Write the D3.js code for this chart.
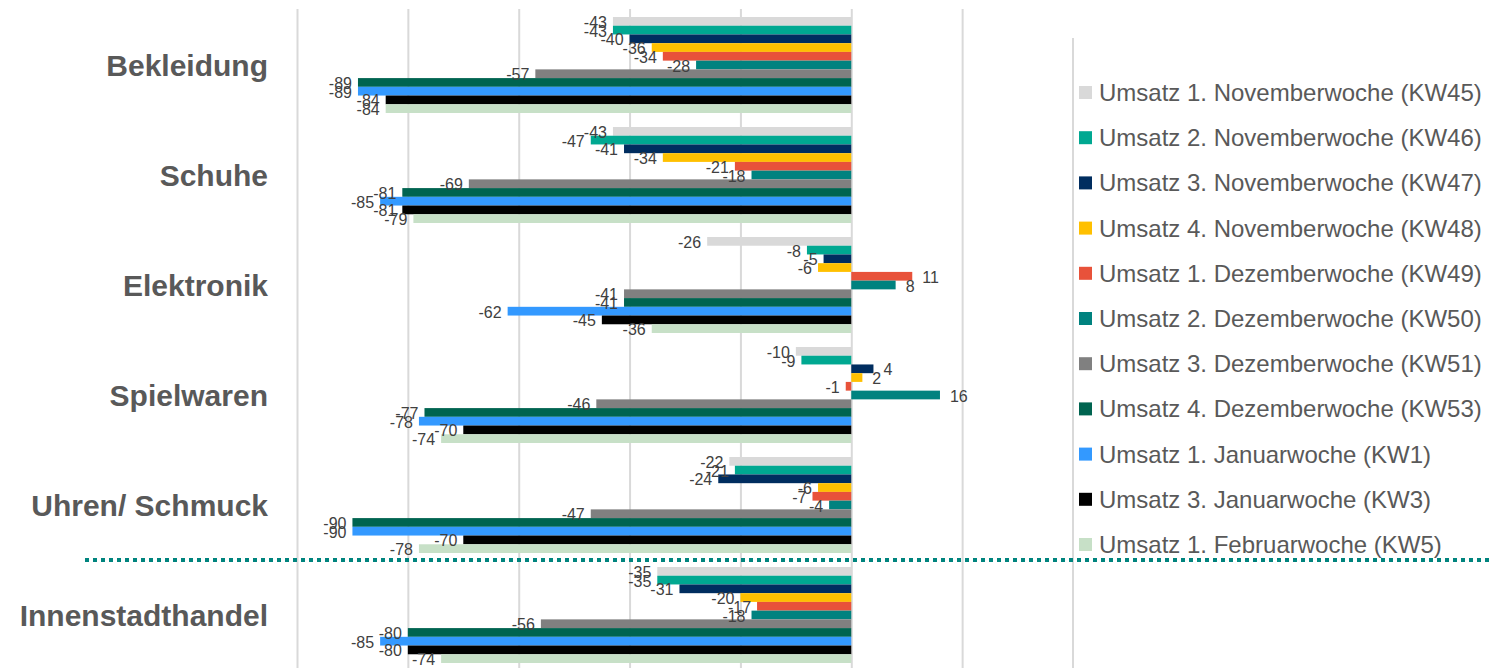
<!DOCTYPE html>
<html>
<head>
<meta charset="utf-8">
<script src="https://cdn.jsdelivr.net/npm/d3@7"></script>
<style>
    body { margin: 0; background: #fff; }
    svg { display: block; font-family: "Liberation Sans", Arial, sans-serif; }
</style>
</head>
<body>
<div id="chart"></div>
<script>
"use strict";

var categories = ['Bekleidung', 'Schuhe', 'Elektronik', 'Spielwaren', 'Uhren/ Schmuck', 'Innenstadthandel'];

var seriesNames = [
    'Umsatz 1. Novemberwoche (KW45)',
    'Umsatz 2. Novemberwoche (KW46)',
    'Umsatz 3. Novemberwoche (KW47)',
    'Umsatz 4. Novemberwoche (KW48)',
    'Umsatz 1. Dezemberwoche (KW49)',
    'Umsatz 2. Dezemberwoche (KW50)',
    'Umsatz 3. Dezemberwoche (KW51)',
    'Umsatz 4. Dezemberwoche (KW53)',
    'Umsatz 1. Januarwoche (KW1)',
    'Umsatz 3. Januarwoche (KW3)',
    'Umsatz 1. Februarwoche (KW5)'
];

var seriesColors = ['#d9d9d9', '#00a891', '#002d5f', '#ffc000', '#e8523a', '#00827f',
    '#808080', '#006450', '#3399ff', '#000000', '#c7e0c7'];

// one array per category, in series order
var bekleidung = [-43, -43, -40, -36, -34, -28, -57, -89, -89, -84, -84];
var schuhe = [-43, -47, -41, -34, -21, -18, -69, -81, -85, -81, -79];
var elektronik = [-26, -8, -5, -6, 11, 8, -41, -41, -62, -45, -36];
var spielwaren = [-10, -9, 4, 2, -1, 16, -46, -77, -78, -70, -74];
var uhrenSchmuck = [-22, -21, -24, -6, -7, -4, -47, -90, -90, -70, -78];
var innenstadt = [-35, -35, -31, -20, -17, -18, -56, -80, -85, -80, -74];

var values = [bekleidung, schuhe, elektronik, spielwaren, uhrenSchmuck, innenstadt];

var gridTicks = [-100, -80, -60, -40, -20, 0, 20];

var width = 1492, height = 668;

var svg = d3.select('#chart').append('svg')
    .attr('width', width)
    .attr('height', height);

var x = d3.scaleLinear().domain([-100, 40]).range([297, 1073]);

var y = d3.scaleBand()
    .domain(categories)
    .range([10, 670])
    .paddingInner(14 / 110)
    .paddingOuter(7 / 110);

var ySeries = d3.scaleBand()
    .domain(seriesNames)
    .range([0, y.bandwidth()]);

// gridlines
var grid = svg.append('g')
    .attr('transform', 'translate(0,' + height + ')')
    .call(d3.axisBottom(x).tickValues(gridTicks).tickSize(-(height - 9)).tickFormat(''));
grid.select('.domain').remove();
grid.selectAll('.tick line').attr('stroke', '#d9d9d9').attr('stroke-width', 2);

// legend border line
svg.append('line')
    .attr('x1', x(40)).attr('x2', x(40))
    .attr('y1', 38).attr('y2', height)
    .attr('stroke', '#d9d9d9').attr('stroke-width', 2);

var rows = [];
categories.forEach(function(c, ci) {
    seriesNames.forEach(function(s, si) {
        rows.push({ cat: c, series: s, si: si, value: values[ci][si] });
    });
});

var bars = svg.append('g');
bars.selectAll('rect')
    .data(rows)
    .enter().append('rect')
    .attr('x', function(d) { return x(Math.min(0, d.value)); })
    .attr('y', function(d) { return y(d.cat) + ySeries(d.series); })
    .attr('width', function(d) { return Math.abs(x(d.value) - x(0)); })
    .attr('height', ySeries.bandwidth())
    .attr('fill', function(d) { return seriesColors[d.si]; });

// value labels
svg.append('g').selectAll('text')
    .data(rows)
    .enter().append('text')
    .attr('x', function(d) { return d.value < 0 ? x(d.value) - 6 : x(d.value) + 10; })
    .attr('y', function(d) { return y(d.cat) + ySeries(d.series) + ySeries.bandwidth() / 2 + 1; })
    .attr('dominant-baseline', 'central')
    .attr('text-anchor', function(d) { return d.value < 0 ? 'end' : 'start'; })
    .attr('font-size', 16)
    .attr('fill', '#404040')
    .text(function(d) { return d.value; });

// category labels
svg.append('g').selectAll('text')
    .data(categories)
    .enter().append('text')
    .attr('x', 268)
    .attr('y', function(d) { return y(d) + y.bandwidth() / 2; })
    .attr('dominant-baseline', 'central')
    .attr('text-anchor', 'end')
    .attr('font-size', 30)
    .attr('font-weight', 'bold')
    .attr('fill', '#595959')
    .text(function(d) { return d; });

// separator between single branches and Innenstadthandel
var sepY = (y('Uhren/ Schmuck') + y.bandwidth() + y('Innenstadthandel')) / 2;
svg.append('line')
    .attr('x1', 85).attr('x2', width)
    .attr('y1', sepY).attr('y2', sepY)
    .attr('stroke', '#00847e')
    .attr('stroke-width', 4)
    .attr('stroke-dasharray', '4,4');

// legend
var legend = svg.append('g').selectAll('g')
    .data(seriesNames)
    .enter().append('g')
    .attr('transform', function(d, i) { return 'translate(1079,' + (92.5 + i * 45.2) + ')'; });

legend.append('rect')
    .attr('x', 0).attr('y', -6.5)
    .attr('width', 13).attr('height', 13)
    .attr('fill', function(d, i) { return seriesColors[i]; });

legend.append('text')
    .attr('x', 20)
    .attr('y', 0)
    .attr('dominant-baseline', 'central')
    .attr('font-size', 24)
    .attr('fill', '#595959')
    .text(function(d) { return d; });
</script>
</body>
</html>
